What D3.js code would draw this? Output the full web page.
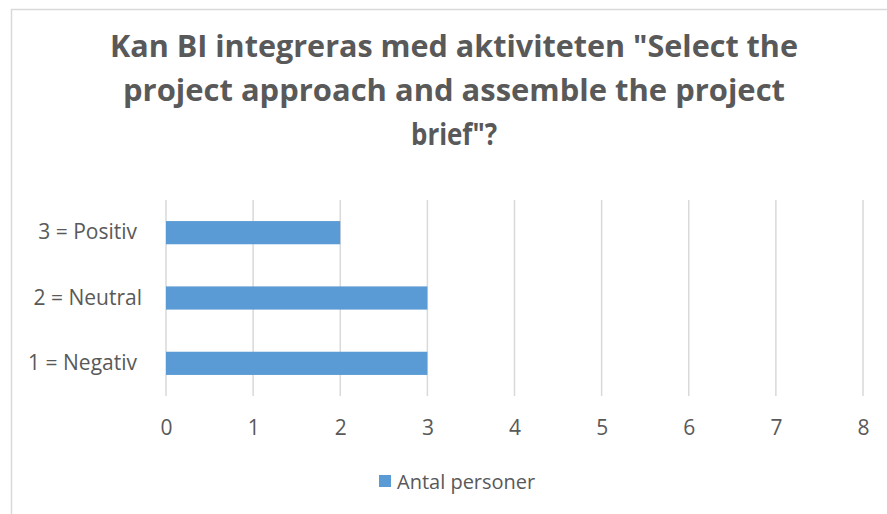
<!DOCTYPE html>
<html>
<head>
<meta charset="utf-8">
<script src="https://cdn.jsdelivr.net/npm/d3@7"></script>
<style>
  body { margin: 0; background: #fff; }
  text { font-family: "Open Sans", "Noto Sans", sans-serif; fill: #595959; }
</style>
</head>
<body>
<div id="chart"></div>
<script>
// chart data
var categories = ["3 = Positiv", "2 = Neutral", "1 = Negativ"];
var values = [2, 3, 3];
var xTicks = [0, 1, 2, 3, 4, 5, 6, 7, 8];
var seriesName = "Antal personer";
var titleLines = ["Kan BI integreras med aktiviteten \"Select the", "project approach and assemble the project", "brief\"?"];

var W = 887, H = 514;

var svg = d3.select('#chart')
  .append('svg')
  .attr('width', W)
  .attr('height', H);

// chart border (only left + top are in view)
svg.append('path')
  .attr('d', 'M11.5,' + (H + 2) + 'V9.5H' + (W + 2))
  .attr('fill', 'none')
  .attr('stroke', '#d9d9d9')
  .attr('stroke-width', 1.5);

// title, squeezed to the width of the original Calibri lines
var titleWidths = [688, 662, 86];
svg.append('g').selectAll('text')
  .data(titleLines)
  .enter().append('text')
  .attr('x', 454)
  .attr('y', (d, i) => 57 + i * 44)
  .attr('text-anchor', 'middle')
  .style('font-size', '31px')
  .style('font-weight', 'bold')
  .attr('textLength', (d, i) => titleWidths[i])
  .attr('lengthAdjust', 'spacingAndGlyphs')
  .text(d => d);

var x = d3.scaleLinear().domain([0, 8]).range([166, 863]);
var y = d3.scaleBand().domain(categories).range([200, 396])
  .paddingInner(0.645).paddingOuter(0.3225);

// gridlines
svg.append('g').selectAll('line')
  .data(xTicks)
  .enter().append('line')
  .attr('x1', d => x(d)).attr('x2', d => x(d))
  .attr('y1', 200).attr('y2', 396)
  .attr('stroke', '#d9d9d9')
  .attr('stroke-width', 1.5);

// bars
svg.append('g').selectAll('rect')
  .data(categories)
  .enter().append('rect')
  .attr('x', x(0))
  .attr('y', d => y(d))
  .attr('width', (d, i) => x(values[i]) - x(0))
  .attr('height', y.bandwidth())
  .attr('fill', '#5b9bd5');

// x axis labels
var xAxis = svg.append('g')
  .attr('transform', 'translate(0,435)')
  .call(d3.axisBottom(x).tickValues(xTicks).tickSize(0).tickPadding(0));
xAxis.select('.domain').remove();
xAxis.selectAll('text')
  .attr('y', 0)
  .attr('dy', 0)
  .style('font-size', '21px')
  .style('font-family', '"Open Sans", sans-serif')
  .attr('fill', '#595959');

// y axis labels
var yAxis = svg.append('g')
  .attr('transform', 'translate(142,0)')
  .call(d3.axisLeft(y).tickSize(0).tickPadding(0));
yAxis.select('.domain').remove();
yAxis.selectAll('text')
  .style('font-size', '21px')
  .style('font-family', '"Open Sans", sans-serif')
  .attr('fill', '#595959')
  .attr('dx', d => d === "2 = Neutral" ? 0 : -5);

// legend
var legend = svg.append('g').attr('transform', 'translate(379,475)');
legend.append('rect')
  .attr('width', 12).attr('height', 12)
  .attr('fill', '#5b9bd5');
legend.append('text')
  .attr('x', 18).attr('y', 14)
  .style('font-size', '20px')
  .text(seriesName);
</script>
</body>
</html>
